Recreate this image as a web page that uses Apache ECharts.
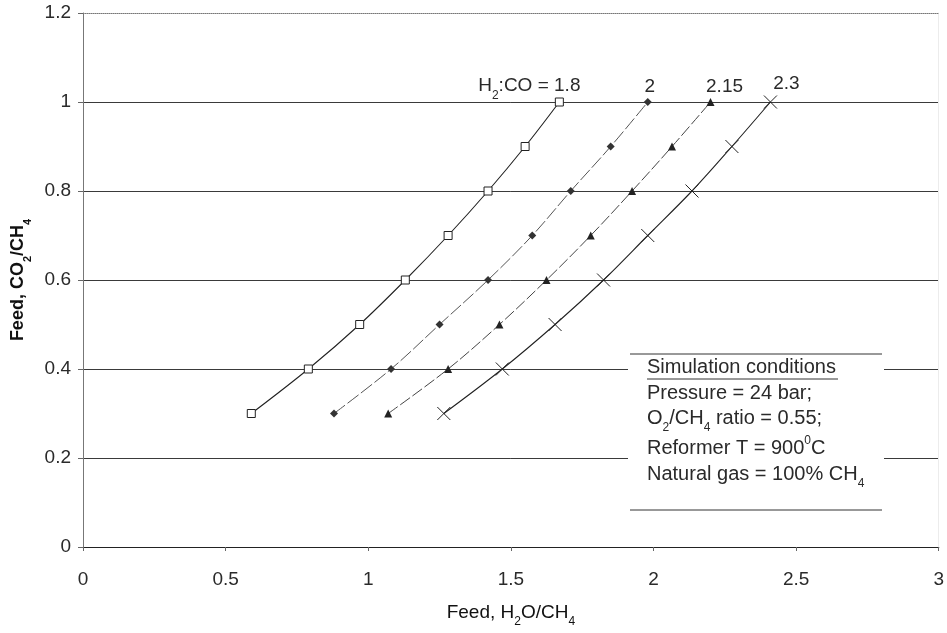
<!DOCTYPE html>
<html>
<head>
<meta charset="utf-8">
<script src="https://cdn.jsdelivr.net/npm/echarts@6/dist/echarts.min.js"></script>
<style>html,body{margin:0;padding:0;background:#fff}#c{width:947px;height:633px}</style>
</head>
<body>
<div id="c"></div>
<script>
var yValues = [0.3, 0.4, 0.5, 0.6, 0.7, 0.8, 0.9, 1.0];
var xH2CO_18  = [0.59, 0.79, 0.97, 1.13, 1.28, 1.42, 1.55, 1.67];
var xH2CO_20  = [0.88, 1.08, 1.25, 1.42, 1.575, 1.71, 1.85, 1.98];
var xH2CO_215 = [1.07, 1.28, 1.46, 1.625, 1.78, 1.925, 2.065, 2.20];
var xH2CO_23  = [1.265, 1.47, 1.655, 1.825, 1.98, 2.135, 2.275, 2.41];
var seriesNames = ['H2:CO = 1.8', '2', '2.15', '2.3'];
var seriesLabels = ['H{s|2}:CO = 1.8', '2', '2.15', '2.3'];
var conditionsTitle = 'Simulation conditions';
var conditions = ['Pressure = 24 bar;', 'O{s|2}/CH{s|4} ratio = 0.55;', 'Reformer T = 900{p|0}C', 'Natural gas = 100% CH{s|4}'];

function pairs(xs){ return xs.map(function(x,i){ return [x, yValues[i]]; }); }

var FONT = '"Liberation Sans", Arial, sans-serif';
var TXT = '#2a2a2a';
function richFor(size, color, weight){
  return { s:{fontSize:Math.round(size*0.62), verticalAlign:'bottom', padding:[0,0,-6,0], fontFamily:FONT, color:color, fontWeight:weight||'normal'},
           p:{fontSize:Math.round(size*0.62), verticalAlign:'top', padding:[-3,0,0,0], fontFamily:FONT, color:color, fontWeight:weight||'normal'} };
}
var rich19 = richFor(19, TXT);
var rich20 = richFor(20, TXT);

function mk(name, label, xs, symbol, size, itemStyle, lineStyle, offset){
  var d = pairs(xs);
  d[d.length-1] = { value: d[d.length-1], label: { show:true, position:'top', distance:6, offset:offset,
      formatter: label, fontSize:19, fontFamily:FONT, color:TXT, rich:rich19 } };
  return { name:name, type:'line', data:d, smooth:0.35, symbol:symbol, symbolSize:size,
    showAllSymbol:true, itemStyle:itemStyle, lineStyle:lineStyle, z:5, animation:false,
    emphasis:{disabled:true} };
}

var chart = echarts.init(document.getElementById('c'), null, {renderer:'canvas'});
var option = {
  animation:false,
  backgroundColor:'#fff',
  grid:{left:83, right:8, top:13, bottom:83},
  xAxis:[{
    type:'value', min:0, max:3, interval:0.5,
    name:'Feed, H{s|2}O/CH{s|4}', nameLocation:'middle', nameGap:56,
    nameTextStyle:{fontSize:19, fontFamily:FONT, color:'#111', fontWeight:'normal', rich:richFor(19,'#111')},
    axisLine:{show:true, onZero:false, lineStyle:{color:'#222', width:1.2}},
    axisTick:{show:true, length:4, lineStyle:{color:'#666'}},
    axisLabel:{fontSize:19, fontFamily:FONT, color:TXT, margin:23, formatter:function(v){return String(v);}},
    splitLine:{show:false}
  },{
    type:'value', min:0, max:3, position:'top',
    axisLine:{show:true, onZero:false, lineStyle:{color:'#777', type:'dotted', width:1}},
    axisTick:{show:false}, axisLabel:{show:false}, splitLine:{show:false}
  }],
  yAxis:[{
    type:'value', min:0, max:1.2, interval:0.2,
    name:'Feed, CO{s|2}/CH{s|4}', nameLocation:'middle', nameGap:56,
    nameTextStyle:{fontSize:18, fontFamily:FONT, color:'#111', fontWeight:'bold', rich:richFor(18,'#111','bold')},
    axisLine:{show:true, onZero:false, lineStyle:{color:'#777', width:1}},
    axisTick:{show:true, length:5, lineStyle:{color:'#666'}},
    axisLabel:{fontSize:19, fontFamily:FONT, color:TXT, margin:12, formatter:function(v){return String(Math.round(v*10)/10);}},
    splitLine:{show:true, showMinLine:false, showMaxLine:false, lineStyle:{color:'#3a3a3a', width:1}}
  },{
    type:'value', min:0, max:1.2, position:'right',
    axisLine:{show:true, onZero:false, lineStyle:{color:'#ececec', width:1}},
    axisTick:{show:false}, axisLabel:{show:false}, splitLine:{show:false}
  }],
  series:[
    mk(seriesNames[0], seriesLabels[0], xH2CO_18, 'rect', 8,
       {color:'#fff', borderColor:'#222', borderWidth:1}, {color:'#222', width:1.1}, [-30,4]),
    mk(seriesNames[1], seriesLabels[1], xH2CO_20, 'diamond', 8,
       {color:'#333', borderColor:'#333', borderWidth:0}, {color:'#555', width:1, type:[14,3]}, [2,4]),
    mk(seriesNames[2], seriesLabels[2], xH2CO_215, 'triangle', 8,
       {color:'#222', borderColor:'#222', borderWidth:0}, {color:'#444', width:1, type:[12,3]}, [14,4]),
    mk(seriesNames[3], seriesLabels[3], xH2CO_23, 'path://M0,0L10,10M10,0L0,10', 13,
       {color:'rgba(0,0,0,0)', borderColor:'#222', borderWidth:1}, {color:'#222', width:1.1}, [16,4])
  ],
  graphic:[
    {type:'rect', shape:{x:628, y:352, width:256, height:160}, style:{fill:'#fff'}, z:10},
    {type:'line', shape:{x1:630, y1:354, x2:882, y2:354}, style:{stroke:'#333', lineWidth:1}, z:11},
    {type:'line', shape:{x1:630, y1:510, x2:882, y2:510}, style:{stroke:'#333', lineWidth:1}, z:11},
    {type:'text', x:647, y:367, z:12, style:{text:conditionsTitle, font:'20px '+FONT, fill:TXT, verticalAlign:'middle'}},
    {type:'line', shape:{x1:647, y1:379, x2:838, y2:379}, style:{stroke:'#333', lineWidth:1}, z:12},
    {type:'text', x:647, y:393, z:12, style:{text:conditions[0], font:'20px '+FONT, fill:TXT, verticalAlign:'middle'}},
    {type:'text', x:647, y:418, z:12, style:{text:conditions[1], font:'20px '+FONT, fill:TXT, verticalAlign:'middle', rich:rich20}},
    {type:'text', x:647, y:448, z:12, style:{text:conditions[2], font:'20px '+FONT, fill:TXT, verticalAlign:'middle', rich:rich20}},
    {type:'text', x:647, y:474, z:12, style:{text:conditions[3], font:'20px '+FONT, fill:TXT, verticalAlign:'middle', rich:rich20}}
  ]
};
chart.setOption(option);
</script>
</body>
</html>
